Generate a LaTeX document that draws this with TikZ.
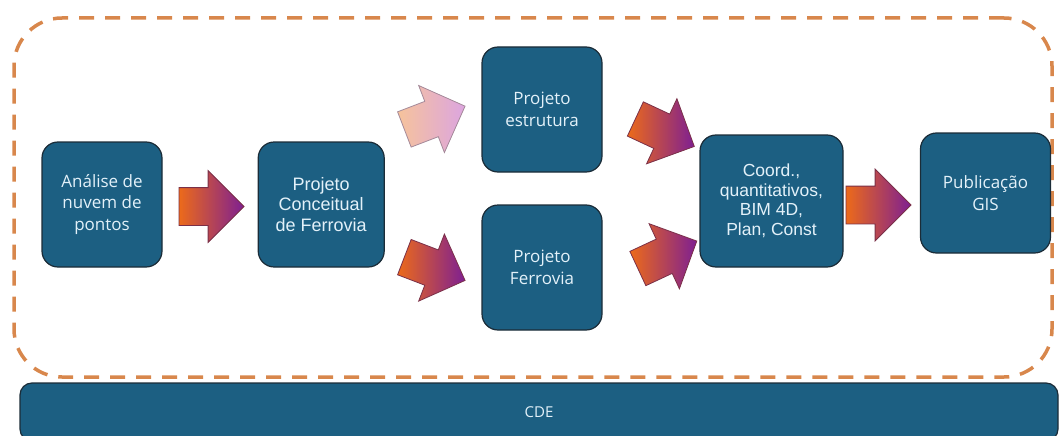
\documentclass[tikz,border=0pt]{standalone}
\usepackage{xcolor}
\usepackage{tikz}
\usepackage{fontspec}
\setmainfont{Liberation Sans}
\newfontfamily\aptos{Open Sans}
\usetikzlibrary{shapes,arrows,positioning,calc,arrows.meta}

\definecolor{boxblue}{HTML}{1C5F82}
\definecolor{boxline}{HTML}{1B2C38}
\definecolor{boxtext}{HTML}{E3F1F9}
\definecolor{dashorange}{HTML}{D8874C}
\definecolor{arrowstart}{HTML}{EC6A1A}
\definecolor{arrowend}{HTML}{7E1F92}
\definecolor{arrowline}{HTML}{7A3048}
\definecolor{palestart}{HTML}{F6C39B}
\definecolor{paleend}{HTML}{DCA5E0}
\definecolor{paleline}{HTML}{A58A9A}

\begin{document}
\begin{tikzpicture}[x=1pt, y=-1pt,
    box/.style={draw=boxline, line width=1.2pt, fill=boxblue, rounded corners=16pt, text=boxtext, align=center, inner sep=2pt},
    arialtext/.style={font=\fontsize{18}{20.5}\selectfont},
    aptostext/.style={font=\aptos\fontsize{17}{21.5}\selectfont},
    blockarrow/.style={single arrow, anchor=tail, minimum height=65pt, minimum width=71pt, single arrow head extend=17pt, inner xsep=0pt, inner ysep=18.5pt, line width=0.8pt},
    darkarrow/.style={blockarrow, draw=arrowline, left color=arrowstart, right color=arrowend},
    palearrow/.style={blockarrow, draw=paleline, left color=palestart, right color=paleend},
    moldura/.style={draw=dashorange, line width=3.5pt, dash pattern=on 15pt off 11pt, rounded corners=48pt, minimum width=1038pt, minimum height=359pt}]
    \useasboundingbox (0,0) rectangle (1060,436);

    % area tracejada e barra CDE
    \node [moldura] (grupo) at (533,197.5) {};
    \node [box, rounded corners=12pt, minimum width=1038pt, minimum height=58pt, font=\aptos\fontsize{15}{17}\selectfont] (cde) at (539,412) {CDE};

    % etapas
    \node [box, aptostext, minimum width=120pt, minimum height=125pt] (nuvem) at (102,204.5) {An\'alise de\\nuvem de\\pontos};
    \node [box, arialtext, minimum width=126pt, minimum height=125pt, right=95pt of nuvem] (conceitual) {Projeto\\Conceitual\\de Ferrovia};
    \node [box, aptostext, minimum width=120pt, minimum height=125pt] (estrutura) at (542,109.5) {Projeto\\estrutura};
    \node [box, aptostext, minimum width=120pt, minimum height=125pt] (ferrovia) at (542,267.5) {Projeto\\Ferrovia};
    \node [box, font=\fontsize{17.5}{19.5}\selectfont, minimum width=143pt, minimum height=132pt] (coord) at (771.5,201) {Coord.,\\quantitativos,\\BIM 4D,\\Plan, Const};
    \node [box, aptostext, minimum width=130pt, minimum height=120pt] (gis) at (985.5,193) {Publica\c{c}\~ao\\GIS};

    % setas (posicionadas pela cauda)
    \node [darkarrow] (s1) at ([xshift=16pt,yshift=-2pt]nuvem.east) {};
    \node [palearrow, rotate=21] (s2) at (404,129.6) {};
    \node [darkarrow, rotate=-21] (s3) at (404,257) {};
    \node [darkarrow, rotate=-25] (s4) at (635,118.8) {};
    \node [darkarrow, rotate=25] (s5) at (637.5,268.7) {};
    \node [darkarrow] (s6) at ([xshift=2pt,yshift=-4pt]coord.east) {};
\end{tikzpicture}
\end{document}
